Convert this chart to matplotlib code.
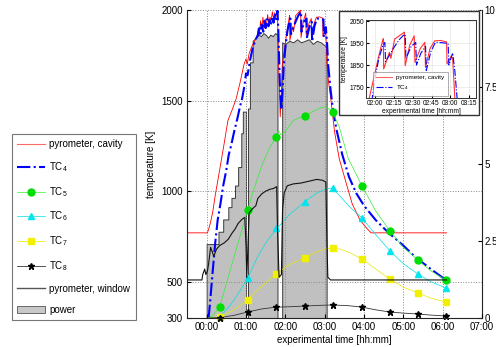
import matplotlib
matplotlib.use('Agg')
import matplotlib.pyplot as plt
from matplotlib.ticker import FuncFormatter, FixedLocator
from matplotlib.patches import Rectangle, Patch
from matplotlib.lines import Line2D

plt.rcParams['font.family'] = ['Liberation Sans', 'DejaVu Sans']
plt.rcParams['mathtext.fontset'] = 'custom'
plt.rcParams['mathtext.rm'] = 'Liberation Sans'
plt.rcParams['mathtext.it'] = 'Liberation Sans'

# ---------------- data (time in hours) ----------------
pyro_cav_t = [-0.5, 0.02, 0.05, 0.1, 0.15, 0.22, 0.33, 0.45, 0.54, 0.65, 0.75, 0.85, 0.95, 1.0, 1.03, 1.08,
              1.15, 1.22, 1.28, 1.31, 1.34, 1.37, 1.40, 1.43, 1.46, 1.49, 1.52, 1.55, 1.58, 1.61, 1.64, 1.67,
              1.70, 1.73, 1.76, 1.79, 1.80, 1.83, 1.87, 1.90, 1.92, 1.99, 2.04, 2.10, 2.11, 2.115, 2.19, 2.21,
              2.26, 2.37, 2.39, 2.40, 2.46, 2.52, 2.53, 2.60, 2.66, 2.67, 2.73, 2.79, 2.87, 2.95, 2.955, 3.01,
              3.03, 3.06, 3.10, 3.16, 3.25, 3.37, 3.50, 3.70, 3.90, 4.05, 4.18, 6.10]
pyro_cav_v = [770, 770, 790, 830, 880, 980, 1117, 1270, 1390, 1450, 1510, 1600, 1700, 1730, 1700, 1760,
              1800, 1830, 1850, 1900, 1860, 1940, 1890, 1960, 1900, 1950, 1910, 1975, 1930, 1960, 1940, 1990,
              1950, 1985, 1960, 2000, 1990, 1700, 1410, 1560, 1695, 1801, 1877, 1961, 1970, 1832, 1908, 1880,
              1968, 1995, 2000, 1847, 1940, 1983, 1862, 1925, 1953, 1840, 1925, 1960, 1962, 1955, 1855, 1890,
              1880, 1695, 1600, 1503, 1330, 1180, 1080, 930, 840, 800, 770, 770]

tc4_t = [0.05, 0.1, 0.15, 0.22, 0.28, 0.35, 0.42, 0.5, 0.56, 0.62, 0.7, 0.78, 0.85, 0.9, 0.96, 1.0, 1.04,
         1.1, 1.17, 1.25, 1.3, 1.34, 1.37, 1.4, 1.44, 1.47, 1.5, 1.54, 1.57, 1.6, 1.64, 1.67, 1.7, 1.74, 1.77,
         1.8, 1.82, 1.86, 1.9, 1.93, 1.96, 2.0, 2.05, 2.1, 2.13, 2.14, 2.2, 2.26, 2.32, 2.37, 2.4, 2.41, 2.48,
         2.54, 2.55, 2.61, 2.67, 2.68, 2.74, 2.8, 2.88, 2.97, 2.98, 3.03, 3.06, 3.09, 3.15, 3.2, 3.3, 3.45,
         3.62, 3.8, 4.0, 4.3, 4.63, 5.0, 5.3, 5.7, 6.08]
tc4_v = [300, 420, 550, 720, 841, 930, 1030, 1117, 1200, 1250, 1330, 1400, 1470, 1510, 1580, 1650, 1640,
         1720, 1790, 1840, 1860, 1900, 1870, 1920, 1880, 1940, 1900, 1950, 1910, 1945, 1925, 1965, 1930, 1975,
         1950, 1995, 1900, 1600, 1450, 1560, 1695, 1790, 1880, 1935, 1953, 1866, 1900, 1935, 1965, 1983, 1990,
         1880, 1935, 1953, 1850, 1905, 1935, 1825, 1910, 1953, 1952, 1948, 1850, 1905, 1820, 1695, 1560, 1470,
         1340, 1200, 1078, 990, 920, 840, 769, 700, 637, 570, 510]

tc5_t = [0.05, 0.15, 0.33, 0.5, 0.7, 0.9, 1.04, 1.2, 1.4, 1.6, 1.77, 1.82, 1.9, 2.0, 2.2, 2.35, 2.5, 2.7,
         2.9, 3.04, 3.2, 3.37, 3.6, 3.95, 4.3, 4.66, 5.0, 5.37, 5.7, 6.08]
tc5_v = [300, 315, 360, 490, 640, 790, 896, 1010, 1140, 1240, 1300, 1335, 1310, 1330, 1390, 1405, 1415, 1440,
         1460, 1465, 1437, 1355, 1180, 1028, 890, 780, 690, 620, 560, 510]

tc6_t = [0.05, 0.33, 0.6, 0.85, 1.04, 1.3, 1.55, 1.8, 2.1, 2.48, 2.8, 3.05, 3.19, 3.4, 3.65, 3.95, 4.3,
         4.66, 5.0, 5.37, 5.7, 6.08]
tc6_v = [300, 305, 370, 450, 520, 640, 730, 797, 870, 940, 990, 1015, 1017, 970, 910, 852, 760, 670, 600,
         543, 500, 466]

tc7_t = [0.05, 0.33, 0.7, 1.04, 1.4, 1.77, 2.1, 2.48, 2.8, 3.05, 3.19, 3.4, 3.65, 3.95, 4.3, 4.66, 5.0,
         5.37, 5.7, 6.08]
tc7_v = [300, 305, 345, 400, 475, 543, 595, 631, 665, 683, 686, 680, 660, 625, 570, 515, 470, 438, 410, 388]

tc8_t = [0.0, 0.33, 0.7, 1.04, 1.4, 1.77, 2.1, 2.5, 2.9, 3.2, 3.6, 3.95, 4.3, 4.66, 5.0, 5.37, 5.7, 6.08]
tc8_v = [300, 302, 315, 333, 350, 360, 362, 366, 370, 372, 368, 360, 345, 333, 327, 322, 316, 311]

marker_t = [0.33, 1.04, 1.77, 2.5, 3.2, 3.95, 4.66, 5.37, 6.08]
tc5_m = [360, 896, 1300, 1415, 1437, 1028, 780, 620, 510]
tc6_m = [305, 520, 797, 940, 1017, 852, 670, 543, 466]
tc7_m = [305, 400, 543, 631, 686, 625, 515, 438, 388]
tc8_m = [302, 333, 360, 366, 372, 360, 333, 322, 311]

pyro_win_t = [-0.5, -0.12, -0.1, -0.05, -0.02, 0.02, 0.05, 0.1, 0.15, 0.18, 0.25, 0.33, 0.45, 0.55, 0.65,
              0.72, 0.8, 0.9, 0.97, 1.0, 1.02, 1.05, 1.08, 1.15, 1.25, 1.3, 1.4, 1.5, 1.6, 1.7, 1.78, 1.8,
              1.84, 1.9, 1.93, 1.97, 2.05, 2.2, 2.4, 2.6, 2.8, 2.95, 3.03, 3.06, 3.08, 3.15, 6.1]
pyro_win_v = [510, 510, 540, 570, 540, 560, 600, 690, 660, 640, 680, 700, 715, 735, 770, 790, 822, 845, 855,
              700, 525, 700, 880, 900, 920, 960, 985, 1000, 1010, 1015, 1025, 800, 525, 540, 900, 990, 1030,
              1040, 1045, 1055, 1065, 1060, 1050, 700, 525, 510, 510]

power_t = [-0.5, 0.0, 0.0, 0.3, 0.3, 0.42, 0.42, 0.55, 0.55, 0.63, 0.63, 0.72, 0.72, 0.8, 0.8, 0.88, 0.88,
           0.92, 0.92, 1.0, 1.0, 1.05, 1.05, 1.1, 1.1, 1.17, 1.17, 1.25, 1.32, 1.38, 1.44, 1.5, 1.56, 1.62,
           1.68, 1.74, 1.8, 1.8, 1.92, 1.92, 2.0, 2.1, 2.2, 2.3, 2.4, 2.5, 2.6, 2.7, 2.8, 2.9, 3.0, 3.05,
           3.05, 7.0]
power_v = [0, 0, 2.4, 2.4, 2.8, 2.8, 3.2, 3.2, 3.6, 3.6, 3.9, 3.9, 4.3, 4.3, 4.9, 4.9, 6.0, 6.0, 6.7, 6.7,
           0, 0, 6.8, 6.8, 8.3, 8.3, 9.0, 9.1, 9.2, 9.15, 9.25, 9.2, 9.1, 9.2, 9.15, 9.25, 9.2, 0, 0, 8.95,
           8.9, 9.0, 8.95, 9.05, 8.95, 9.0, 9.05, 8.9, 9.0, 8.95, 8.85, 8.8, 0, 0]

main_xticks = [0, 1, 2, 3, 4, 5, 6, 7]
temp_ticks = [300, 500, 1000, 1500, 2000]
power_ticks = [0, 2.5, 5, 7.5, 10]
power_ticklabels = ['0', '2.5', '5', '7.5', '10']
inset_xticks = [2.0, 2.25, 2.5, 2.75, 3.0, 3.25]
inset_yticks = [1750, 1850, 1950, 2050]

labels = ['pyrometer, cavity', 'TC$_4$', 'TC$_5$', 'TC$_6$', 'TC$_7$', 'TC$_8$',
          'pyrometer, window', 'power']


def hhmm(x, pos=None):
    m = int(round(x * 60))
    return '%02d:%02d' % (m // 60, m % 60)


W, H = 496, 347
fig = plt.figure(figsize=(W / 100, H / 100), dpi=100)
pos = [187 / W, (H - 318) / H, (482 - 187) / W, (318 - 10) / H]

axp = fig.add_axes(pos)
axt = fig.add_axes(pos)
axt.patch.set_alpha(0)

# power (right axis)
axp.fill_between(power_t, 0, power_v, facecolor='#c0c0c0', edgecolor='#3a3a3a', linewidth=0.7)
axp.set_xlim(-0.5, 7)
axp.set_ylim(0, 10)
axp.yaxis.tick_right()
axp.yaxis.set_major_locator(FixedLocator(power_ticks))
axp.set_yticklabels(power_ticklabels)
axp.tick_params(axis='y', direction='in', length=3, labelsize=7, pad=2)
axp.set_xticks([])
for s in ['top', 'left', 'bottom']:
    axp.spines[s].set_visible(False)
axp.spines['right'].set_color('#222222')
axp.spines['right'].set_linewidth(0.8)

# temperatures (left axis)
axt.plot(pyro_cav_t, pyro_cav_v, color='#ff0000', lw=0.6)
axt.plot(tc4_t, tc4_v, color='#0000ff', lw=1.5, ls='-.')
axt.plot(tc5_t, tc5_v, color='#33ee33', lw=0.5)
axt.plot(tc6_t, tc6_v, color='#00e0e0', lw=0.5)
axt.plot(tc7_t, tc7_v, color='#e8e800', lw=0.5)
axt.plot(tc8_t, tc8_v, color='#333333', lw=0.6)
axt.plot(marker_t, tc5_m, ls='none', marker='o', ms=5, color='#00dd00', clip_on=False)
axt.plot(marker_t, tc6_m, ls='none', marker='^', ms=5, color='#00e5ee', clip_on=False)
axt.plot(marker_t, tc7_m, ls='none', marker='s', ms=4, color='#f0f000', clip_on=False)
axt.plot(marker_t, tc8_m, ls='none', marker='*', ms=5, color='black', clip_on=False)
axt.plot(pyro_win_t, pyro_win_v, color='#111111', lw=0.8)

axt.set_xlim(-0.5, 7)
axt.set_ylim(300, 2000)
axt.xaxis.set_major_locator(FixedLocator(main_xticks))
axt.xaxis.set_major_formatter(FuncFormatter(hhmm))
axt.yaxis.set_major_locator(FixedLocator(temp_ticks))
axt.tick_params(direction='in', length=3, labelsize=7, pad=3)
axt.grid(True, ls=':', color='#888888', lw=0.7)
axt.spines['top'].set_visible(False)
axt.spines['right'].set_visible(False)
axt.spines['left'].set_color('#222222')
axt.spines['bottom'].set_color('#222222')
axt.spines['left'].set_linewidth(0.8)
axt.spines['bottom'].set_linewidth(0.8)
axt.set_xlabel('experimental time [hh:mm]', fontsize=7, labelpad=2)
axt.set_ylabel('temperature [K]', fontsize=7, labelpad=4)

# legend
handles = [
    Line2D([], [], color='#ff6666', lw=0.8),
    Line2D([], [], color='#0000ff', lw=1.5, ls='-.'),
    Line2D([], [], color='#33ee33', lw=0.5, marker='o', ms=5, mfc='#00dd00', mec='#00dd00'),
    Line2D([], [], color='#00e0e0', lw=0.5, marker='^', ms=5, mfc='#00e5ee', mec='#00e5ee'),
    Line2D([], [], color='#e8e800', lw=0.5, marker='s', ms=4, mfc='#f0f000', mec='#f0f000'),
    Line2D([], [], color='#333333', lw=0.6, marker='*', ms=5, mfc='black', mec='black'),
    Line2D([], [], color='#555555', lw=1.0),
    Patch(facecolor='#c8c8c8', edgecolor='#555555', lw=0.6),
]
leg = fig.legend(handles, labels, loc='upper left', bbox_to_anchor=(12 / W, 1 - 134 / H),
                 bbox_transform=fig.transFigure, fontsize=7, frameon=True, fancybox=False,
                 edgecolor='#555555', borderpad=0.55, labelspacing=1.12, handlelength=2.8,
                 handletextpad=0.5, borderaxespad=0)
leg.get_frame().set_linewidth(0.8)

# inset
bg = Rectangle((339 / W, (H - 115) / H), 140 / W, 104 / H, transform=fig.transFigure,
               facecolor='white', edgecolor='#333333', lw=1.0, zorder=3)
fig.patches.append(bg)
axi = fig.add_axes([366 / W, (H - 98) / H, 110 / W, 78 / H], zorder=4)
axi.plot(pyro_cav_t, pyro_cav_v, color='#ff3333', lw=0.8)
axi.plot(tc4_t, tc4_v, color='#0000ff', lw=0.8, ls='-.')
axi.set_xlim(1.88, 3.34)
axi.set_ylim(1700, 2055)
axi.xaxis.set_major_locator(FixedLocator(inset_xticks))
axi.xaxis.set_major_formatter(FuncFormatter(hhmm))
axi.yaxis.set_major_locator(FixedLocator(inset_yticks))
axi.tick_params(direction='in', length=2, labelsize=4.8, pad=1.5)
axi.grid(True, ls='-', color='#e6e6e6', lw=0.5)
for s in axi.spines.values():
    s.set_color('#333333')
    s.set_linewidth(0.7)
axi.set_xlabel('experimental time [hh:mm]', fontsize=4.8, labelpad=0.5)
axi.set_ylabel('temperature [K]', fontsize=4.8, labelpad=1)
ileg = axi.legend([Line2D([], [], color='#ff6666', lw=0.8),
                   Line2D([], [], color='#0000ff', lw=0.8, ls='-.')],
                  ['pyrometer, cavity', 'TC$_4$'], loc='lower left',
                  bbox_to_anchor=(0.06, 0.03), fontsize=4.6, frameon=True, fancybox=False,
                  edgecolor='#888888', borderpad=0.5, labelspacing=0.5, handlelength=2.6,
                  handletextpad=0.6, borderaxespad=0)
ileg.get_frame().set_linewidth(0.6)

fig.savefig('out.png', dpi=100)
